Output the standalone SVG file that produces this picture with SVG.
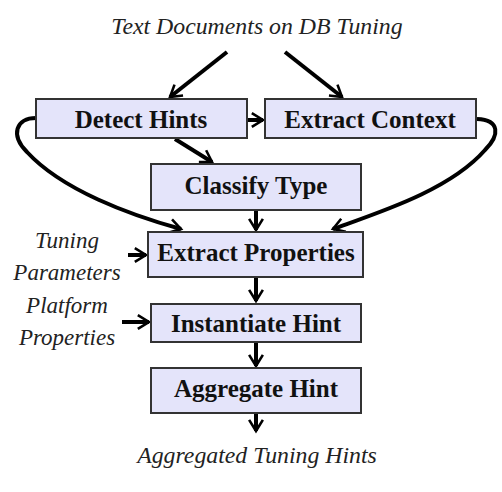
<svg xmlns="http://www.w3.org/2000/svg" width="502" height="492" viewBox="0 0 502 492">
<style>
.box{fill:#e4e4fa;stroke:#333;stroke-width:2}
.lbl{font-family:'Liberation Serif','Times New Roman',Times,serif;font-weight:700;font-size:25px;fill:#111;text-anchor:middle}
.it{font-family:'Liberation Serif','Times New Roman',Times,serif;font-style:italic;font-size:23px;fill:#222;text-anchor:middle}
.big{font-size:23.8px}
.c{fill:none;stroke:#000;stroke-width:4;marker-end:url(#ah)}
</style>
<defs>
<marker id="ah" viewBox="0 0 10 10" refX="8" refY="5" markerWidth="4.3" markerHeight="4.3" orient="auto" markerUnits="strokeWidth">
<path d="M1.5,1 L8,5 L1.5,9" fill="none" stroke="#000" stroke-width="1.5"/>
</marker>
</defs>
<rect width="502" height="492" fill="#fff"/>
<text class="it big" x="257" y="34">Text Documents on DB Tuning</text>
<g id="connectors">
<path class="c" d="M227,52 L170,97"/>
<path class="c" d="M285,52 L342,97"/>
<path class="c" d="M248,120 L263,120"/>
<path class="c" d="M175,139 L212,162"/>
<path class="c" d="M36,118 C16,118 10,135 27,152 C62,190 130,215 181,229"/>
<path class="c" d="M477,119 C500,120 500,135 485,150 C450,190 380,212 333,229"/>
<path class="c" d="M256,210 L256,230"/>
<path class="c" d="M128,255 L146,255"/>
<path class="c" d="M256,278 L256,301"/>
<path class="c" d="M122,322 L149,322"/>
<path class="c" d="M256,343 L256,366"/>
<path class="c" d="M256,414 L256,431"/>
</g>
<g id="detect"><rect class="box" x="36" y="99" width="211" height="39"/><text class="lbl" x="141" y="128">Detect Hints</text></g>
<g id="context"><rect class="box" x="265" y="99" width="211" height="39"/><text class="lbl" x="370" y="128">Extract Context</text></g>
<g id="classify"><rect class="box" x="151" y="164" width="210" height="46"/><text class="lbl" x="256" y="194">Classify Type</text></g>
<g id="props"><rect class="box" x="148" y="232" width="215" height="45"/><text class="lbl" x="256" y="261">Extract Properties</text></g>
<g id="inst"><rect class="box" x="151" y="304" width="210" height="38"/><text class="lbl" x="256" y="332">Instantiate Hint</text></g>
<g id="agg"><rect class="box" x="151" y="368" width="210" height="45"/><text class="lbl" x="256" y="397">Aggregate Hint</text></g>
<g id="tuning"><text class="it" x="67" y="248">Tuning</text><text class="it" x="67" y="280">Parameters</text></g>
<g id="platform"><text class="it" x="67" y="313">Platform</text><text class="it" x="67" y="345">Properties</text></g>
<text class="it big" x="257" y="463">Aggregated Tuning Hints</text>
</svg>
